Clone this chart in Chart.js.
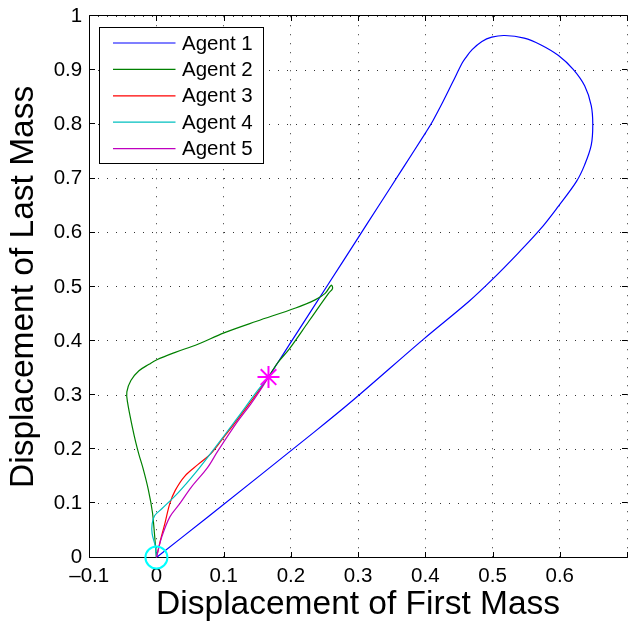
<!DOCTYPE html>
<html>
<head>
<meta charset="utf-8">
<script src="https://cdn.jsdelivr.net/npm/chart.js@4.4.0/dist/chart.umd.min.js"></script>
<style>
  html, body { margin: 0; padding: 0; background: #fff; overflow: hidden; }
  #wrap { width: 640px; height: 624px; }
</style>
</head>
<body>
<div id="wrap"><canvas id="chart" width="640" height="624"></canvas></div>
<script>
// Trajectories (x = first mass, y = last mass)
const agent1X = [0, 0.076, 0.236, 0.291, 0.397, 0.4647, 0.4986, 0.5375, 0.5714, 0.5981, 0.6249, 0.637, 0.6468, 0.6491, 0.6468, 0.637, 0.62, 0.5981, 0.5714, 0.5471, 0.518, 0.4988, 0.4842, 0.4696, 0.4599, 0.455, 0.4404, 0.4258, 0.4115, 0.401, 0.365, 0.329, 0.2995, 0.256, 0.1975, 0.179, 0.1667];
const agent1Y = [0, 0.0745, 0.233, 0.289, 0.403, 0.473, 0.5124, 0.5615, 0.607, 0.6493, 0.6949, 0.7254, 0.7618, 0.7996, 0.8349, 0.8714, 0.9018, 0.9274, 0.9474, 0.9595, 0.9644, 0.9613, 0.9535, 0.9383, 0.923, 0.9139, 0.8774, 0.841, 0.8075, 0.786, 0.716, 0.6466, 0.5896, 0.5057, 0.3927, 0.357, 0.3333];

const agent2X = [0, -0.003, -0.006, -0.012, -0.02, -0.026, -0.031, -0.0355, -0.043, -0.044, -0.038, -0.026, -0.011, 0.0, 0.028, 0.0616, 0.1005, 0.149, 0.207, 0.236, 0.251, 0.26, 0.262, 0.256, 0.2267, 0.1975, 0.1806, 0.1667];
const agent2Y = [0, 0.045, 0.084, 0.125, 0.165, 0.19, 0.214, 0.239, 0.287, 0.306, 0.327, 0.345, 0.357, 0.365, 0.379, 0.394, 0.415, 0.4365, 0.461, 0.476, 0.488, 0.503, 0.497, 0.488, 0.4365, 0.385, 0.360, 0.3333];

const agent3X = [0, 0.006, 0.013, 0.02, 0.028, 0.042, 0.062, 0.081, 0.1, 0.12, 0.14, 0.158, 0.1667];
const agent3Y = [0, 0.032, 0.065, 0.1, 0.124, 0.15, 0.172, 0.192, 0.222, 0.254, 0.287, 0.318, 0.3333];

const agent4X = [0, -0.0015, -0.0064, -0.0064, -0.0025, 0.008, 0.0325, 0.057, 0.081, 0.12, 0.149, 0.1667];
const agent4Y = [0, 0.02, 0.044, 0.062, 0.0775, 0.09, 0.12, 0.155, 0.193, 0.257, 0.306, 0.3333];

const agent5X = [0, 0.008, 0.02, 0.035, 0.052, 0.076, 0.091, 0.12, 0.14, 0.155, 0.1667];
const agent5Y = [0, 0.038, 0.075, 0.1, 0.13, 0.166, 0.196, 0.25, 0.283, 0.31, 0.3333];

const agentNames = ['Agent 1', 'Agent 2', 'Agent 3', 'Agent 4', 'Agent 5'];
const agentColors = ['#0000ff', '#008000', '#ff0000', '#00bfbf', '#bf00bf'];

const startPoint = [0, 0];
const goalPoint = [0.1667, 0.3333];

const xTicks = { min: -0.1, max: 0.7, step: 0.1 };
const yTicks = { min: 0, max: 1, step: 0.1 };

const FONT = '"Liberation Sans", Arial, Helvetica, sans-serif';
Chart.defaults.font.family = FONT;
Chart.defaults.color = '#000';

function toPoints(xs, ys) {
  return xs.map((x, i) => ({ x: x, y: ys[i] }));
}

const agentSeries = [
  [agent1X, agent1Y], [agent2X, agent2Y], [agent3X, agent3Y],
  [agent4X, agent4Y], [agent5X, agent5Y]
];

const datasets = agentSeries.map((s, i) => ({
  label: agentNames[i],
  data: toPoints(s[0], s[1]),
  showLine: true,
  borderColor: agentColors[i],
  borderWidth: 1.2,
  pointRadius: 0,
  tension: 0.35,
  order: 6 - i
}));

datasets.push({
  label: 'goal',
  data: [{ x: goalPoint[0], y: goalPoint[1] }],
  pointStyle: 'star',
  pointRadius: 11,
  borderColor: '#ff00ff',
  pointBorderWidth: 2,
  clip: false,
  order: 1
});
datasets.push({
  label: 'start',
  data: [{ x: startPoint[0], y: startPoint[1] }],
  pointStyle: 'circle',
  pointRadius: 11,
  borderColor: '#00ffff',
  backgroundColor: 'rgba(0,0,0,0)',
  pointBorderWidth: 2,
  clip: false,
  order: 0
});

// Axes box, inward tick marks and the legend inside the plot
const frame = {
  id: 'frame',
  beforeDatasetsDraw(chart) {
    const { ctx, chartArea: a, scales: { x, y } } = chart;
    const L = Math.round(a.left) + 0.5, T = Math.round(a.top) - 0.5;
    const B = Math.round(a.bottom) - 0.5, R = Math.round(a.right) + 0.5;
    ctx.save();
    ctx.strokeStyle = '#000';
    ctx.lineWidth = 1;
    ctx.beginPath();
    x.ticks.forEach(t => {
      const px = Math.round(x.getPixelForValue(t.value)) + 0.5;
      ctx.moveTo(px, B); ctx.lineTo(px, B - 5.5);
      ctx.moveTo(px, T); ctx.lineTo(px, T + 5.5);
    });
    y.ticks.forEach(t => {
      const py = Math.round(y.getPixelForValue(t.value)) - 0.5;
      ctx.moveTo(L, py); ctx.lineTo(L + 5.5, py);
      ctx.moveTo(R, py); ctx.lineTo(R - 5.5, py);
    });
    ctx.moveTo(L, T); ctx.lineTo(R, T);
    ctx.moveTo(L, T); ctx.lineTo(L, B);
    ctx.moveTo(L, B); ctx.lineTo(R, B);
    ctx.stroke();
    ctx.restore();
  },
  afterDatasetsDraw(chart) {
    const { ctx, chartArea: a } = chart;
    const bx = Math.round(a.left) + 10.5, by = Math.round(a.top) + 11.5;
    const bw = 164, bh = 136, row = 26.4;
    ctx.save();
    ctx.fillStyle = '#fff';
    ctx.fillRect(bx, by, bw, bh);
    ctx.strokeStyle = '#000';
    ctx.lineWidth = 1;
    ctx.strokeRect(bx, by, bw, bh);
    ctx.font = '20.5px ' + FONT;
    ctx.textBaseline = 'middle';
    ctx.textAlign = 'left';
    agentNames.forEach((name, i) => {
      const ly = by + 15.5 + i * row;
      ctx.strokeStyle = agentColors[i];
      ctx.lineWidth = 1.2;
      ctx.beginPath();
      ctx.moveTo(bx + 13.5, ly);
      ctx.lineTo(bx + 76, ly);
      ctx.stroke();
      ctx.fillStyle = '#000';
      ctx.fillText(name, bx + 82.5, ly + 1);
    });
    ctx.restore();
  }
};

function xLabel(v) {
  const r = Math.round(v * 10) / 10;
  if (r >= xTicks.max - 1e-9) return '';
  if (r === 0) return '0';
  return r < 0 ? '\u2013' + Math.abs(r).toFixed(1) : r.toFixed(1);
}

function yLabel(v) {
  const r = Math.round(v * 10) / 10;
  if (r === 0) return '0';
  if (r === 1) return '1';
  return r.toFixed(1);
}

new Chart(document.getElementById('chart'), {
  type: 'scatter',
  data: { datasets: datasets },
  options: {
    responsive: false,
    animation: false,
    devicePixelRatio: 1,
    layout: { padding: { top: 9.5, right: 2.8, left: 0, bottom: 0 } },
    plugins: { legend: { display: false }, tooltip: { enabled: false } },
    scales: {
      x: {
        type: 'linear',
        position: 'bottom',
        min: xTicks.min,
        max: xTicks.max,
        afterFit(s) { s.height = 66.5; },
        ticks: {
          stepSize: xTicks.step,
          padding: 10,
          color: '#000',
          font: { size: 20.5, lineHeight: 0.9 },
          maxRotation: 0,
          autoSkip: false,
          callback: xLabel
        },
        grid: { color: '#333', lineWidth: 1, drawTicks: false },
        border: { display: false, dash: [1, 8] },
        title: {
          display: true,
          text: 'Displacement of First Mass',
          color: '#000',
          font: { size: 33.5, lineHeight: 1 },
          padding: { top: 0, bottom: 2 }
        }
      },
      y: {
        type: 'linear',
        min: yTicks.min,
        max: yTicks.max,
        afterFit(s) { s.width = 89.2; },
        ticks: {
          stepSize: yTicks.step,
          padding: 7,
          color: '#000',
          font: { size: 20.5, lineHeight: 0.9 },
          autoSkip: false,
          callback: yLabel
        },
        grid: { color: '#333', lineWidth: 1, drawTicks: false },
        border: { display: false, dash: [1, 8] },
        title: {
          display: true,
          text: 'Displacement of Last Mass',
          color: '#000',
          font: { size: 33.5, lineHeight: 1 },
          padding: { top: 7, bottom: 0 }
        }
      }
    }
  },
  plugins: [frame]
});
</script>
</body>
</html>
